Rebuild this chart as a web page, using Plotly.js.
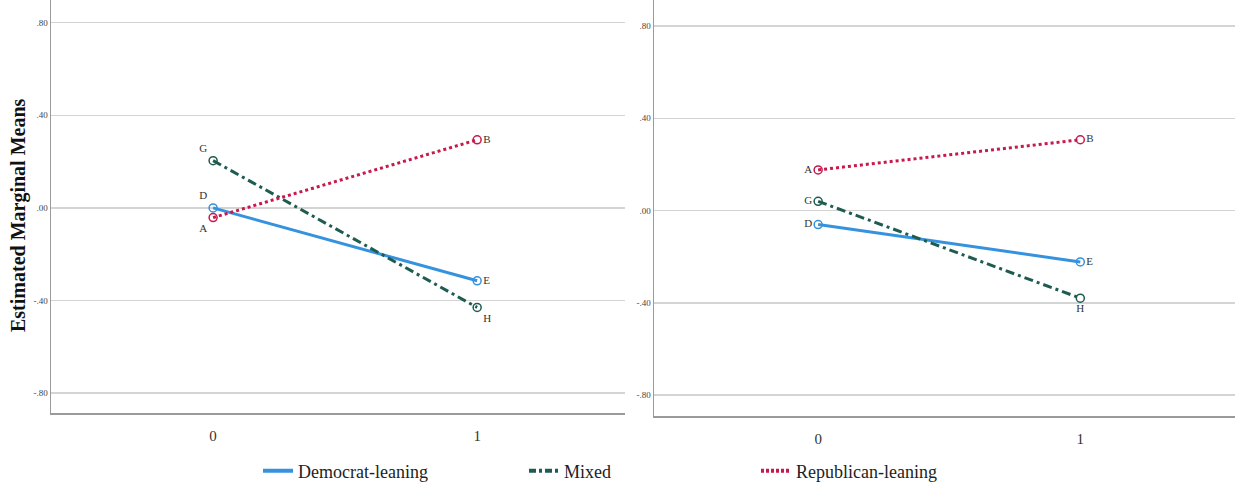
<!DOCTYPE html>
<html>
<head>
<meta charset="utf-8">
<script src="https://cdn.plot.ly/plotly-3.0.1.min.js"></script>
<style>html,body{margin:0;padding:0;background:#fff;}#chart{width:1235px;height:484px;}</style>
</head>
<body>
<div id="chart"></div>
<script>
// Data
const categories = [0, 1];
const seriesNames = ["Democrat-leaning", "Mixed", "Republican-leaning"];
// Left panel
const leftDemocrat = [0.00, -0.315];
const leftMixed = [0.204, -0.430];
const leftRepublican = [-0.042, 0.294];
const leftLabelsDemocrat = ["D", "E"];
const leftLabelsMixed = ["G", "H"];
const leftLabelsRepublican = ["A", "B"];
// Right panel
const rightDemocrat = [-0.061, -0.223];
const rightMixed = [0.040, -0.380];
const rightRepublican = [0.176, 0.307];
const rightLabelsDemocrat = ["D", "E"];
const rightLabelsMixed = ["G", "H"];
const rightLabelsRepublican = ["A", "B"];
// Axis ticks
const yTickVals = [0.8, 0.4, 0.0, -0.4, -0.8];
const yTickText = [".80", ".40", ".00", "-.40", "-.80"];
const xTickText = ["0", "1"];

const colors = {dem: "#3592DE", mix: "#1D5C4F", rep: "#C8194D"};
const serif = "Liberation Serif, Times New Roman, serif";
const labelFont = {family: serif, size: 11, color: "#333"};
const mixDash = "9px,4px,3px,4px";

function trace(x, y, labels, name, color, dash, xa, ya, positions) {
  return {
    x: x, y: y, text: labels, name: name,
    mode: "lines+markers+text",
    xaxis: xa, yaxis: ya,
    line: {color: color, width: 3, dash: dash},
    marker: {symbol: "circle-open", size: 8, color: color, line: {width: 1.5, color: color}},
    textposition: positions,
    textfont: labelFont,
    showlegend: false,
    hoverinfo: "skip"
  };
}
function legendTrace(name, color, dash, legend) {
  return {x: [null], y: [null], name: name, mode: "lines", legend: legend,
    line: {color: color, width: 4, dash: dash}, showlegend: true, hoverinfo: "skip"};
}

const data = [
  trace(categories, leftDemocrat, leftLabelsDemocrat, seriesNames[0], colors.dem, "solid", "x", "y", ["top left", "middle right"]),
  trace(categories, leftMixed, leftLabelsMixed, seriesNames[1], colors.mix, mixDash, "x", "y", ["top left", "bottom right"]),
  trace(categories, leftRepublican, leftLabelsRepublican, seriesNames[2], colors.rep, "dot", "x", "y", ["bottom left", "middle right"]),
  trace(categories, rightDemocrat, rightLabelsDemocrat, seriesNames[0], colors.dem, "solid", "x2", "y2", ["middle left", "middle right"]),
  trace(categories, rightMixed, rightLabelsMixed, seriesNames[1], colors.mix, mixDash, "x2", "y2", ["middle left", "bottom center"]),
  trace(categories, rightRepublican, rightLabelsRepublican, seriesNames[2], colors.rep, "dot", "x2", "y2", ["middle left", "middle right"]),
  legendTrace(seriesNames[0], colors.dem, "solid", "legend"),
  legendTrace(seriesNames[1], colors.mix, "7px,3px,3px,3px", "legend2"),
  legendTrace(seriesNames[2], colors.rep, "3px,2px", "legend3")
];

const W = 1235, H = 484;
const yAxisBase = {
  tickmode: "array", tickvals: yTickVals, ticktext: yTickText,
  tickfont: {family: serif, size: 9, color: "#444"},
  showgrid: true, gridcolor: "#d4d4d4", gridwidth: 1.5,
  zeroline: false, showline: true, linecolor: "#9a9a9a", linewidth: 1.5,
  ticks: "", fixedrange: true
};
const xAxisBase = {
  tickmode: "array", tickvals: categories, ticktext: xTickText,
  tickfont: {family: serif, size: 15, color: "#333"},
  showgrid: false, zeroline: false, showline: true, linecolor: "#9a9a9a", linewidth: 1.5,
  ticks: "", ticklabelstandoff: 8, fixedrange: true
};
const legendBase = {orientation: "h", yanchor: "middle", xanchor: "left", y: (H - 471) / H,
  font: {family: serif, size: 18, color: "#222"}, bgcolor: "rgba(0,0,0,0)", itemwidth: 30, tracegroupgap: 0};

const layout = {
  width: W, height: H,
  margin: {l: 0, r: 0, t: 0, b: 0, autoexpand: false},
  paper_bgcolor: "#fff", plot_bgcolor: "#fff",
  xaxis: Object.assign({}, xAxisBase, {domain: [51 / W, 625 / W], range: [-0.614, 1.56], anchor: "y"}),
  yaxis: Object.assign({}, yAxisBase, {domain: [(H - 413) / H, 1], range: [-0.886, 0.898], anchor: "x"}),
  xaxis2: Object.assign({}, xAxisBase, {domain: [654 / W, 1], range: [-0.626, 1.59], anchor: "y2"}),
  yaxis2: Object.assign({}, yAxisBase, {domain: [(H - 416) / H, 1], range: [-0.891, 0.913], anchor: "x2"}),
  legend: Object.assign({}, legendBase, {x: 258 / W}),
  legend2: Object.assign({}, legendBase, {x: 524 / W}),
  legend3: Object.assign({}, legendBase, {x: 756 / W}),
  annotations: [{
    text: "<b>Estimated Marginal Means</b>", textangle: -90,
    xref: "paper", yref: "paper", x: 18 / W, y: (H - 215) / H,
    xanchor: "center", yanchor: "middle", showarrow: false,
    font: {family: serif, size: 20, color: "#111"}
  }]
};

Plotly.newPlot("chart", data, layout, {displayModeBar: false, staticPlot: true});
</script>
</body>
</html>
